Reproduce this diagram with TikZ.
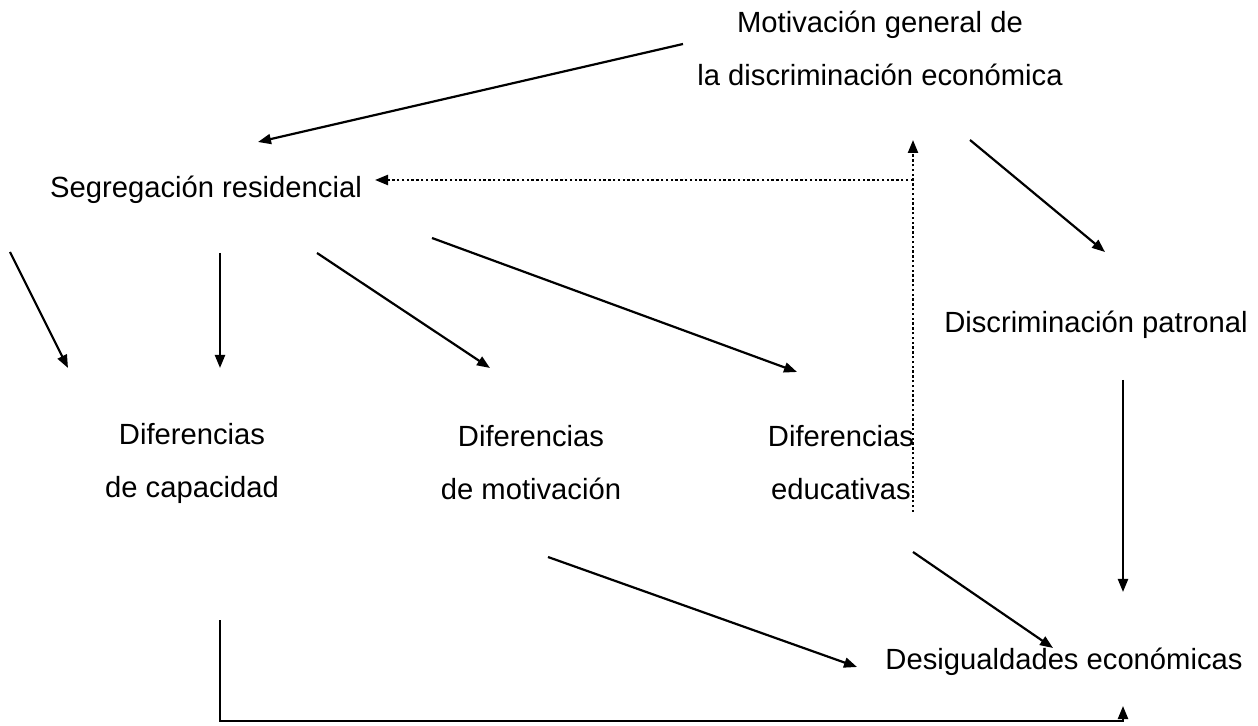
\documentclass[tikz,border=0pt]{standalone}
\usepackage{fontspec}
\setmainfont{Liberation Sans}
\usepackage{tikz}
\usetikzlibrary{arrows.meta}

\begin{document}
\begin{tikzpicture}[x=0.5pt,y=-0.5pt,
	lbl/.style={inner sep=0pt,align=center,font=\fontsize{14.6}{26.5}\selectfont},
	>={Triangle[length=6.5pt,width=5pt]}]
		\useasboundingbox (0,0) rectangle (1258,726);
		% labels
		\node[lbl] (mot) at (880,48) {Motivación general de\\la discriminación económica};
		\node[lbl] (seg) at (206,190) {Segregación residencial};
		\node[lbl] (pat) at (1096,325) {Discriminación patronal};
		\node[lbl] (cap) at (192,463) {Diferencias\\ de capacidad};
		\node[lbl] (mov) at (531,463) {Diferencias\\ de motivación};
		\node[lbl] (edu) at (841,463) {Diferencias\\ educativas};
		\node[lbl] (des) at (1064,662) {Desigualdades económicas};
		%
		\coordinate (m1) at (683,44);   \coordinate (s1) at (258,142);
		\coordinate (m2) at (970,140);  \coordinate (p1) at (1105,252);
		\coordinate (s2) at (10,252);   \coordinate (c1) at (68,368);
		\coordinate (s3) at (220,253);  \coordinate (c2) at (220,368);
		\coordinate (s4) at (317,253);  \coordinate (v1) at (490,368);
		\coordinate (s5) at (432,238);  \coordinate (e1) at (797,372);
		\coordinate (p2) at (1123,380); \coordinate (d1) at (1123,592);
		\coordinate (v2) at (548,557);  \coordinate (d2) at (857,667);
		\coordinate (e2) at (913,552);  \coordinate (d3) at (1053,648);
		\coordinate (e3) at (913,512);  \coordinate (m3) at (913,140);
		\coordinate (k) at (913,180);   \coordinate (s6) at (375,180);
		\coordinate (c3) at (220,620);  \coordinate (d4) at (1123,706);
		%
		\path[->,line width=1.1pt]
		% from the top
		(m1) edge (s1)
		(m2) edge (p1)
		% from segregation
		(s2) edge (c1)
		(s3) edge (c2)
		(s4) edge (v1)
		(s5) edge (e1)
		% to inequalities
		(p2) edge (d1)
		(v2) edge (d2)
		(e2) edge (d3);
		\draw[->,line width=1.1pt] (c3) |- ([yshift=-7.5pt]d4) -- (d4);
		% dotted feedback
		\path[->,line width=1.1pt,dash pattern=on 1.2pt off 1.2pt]
		(e3) edge (m3)
		(k) edge (s6);
\end{tikzpicture}
\end{document}
